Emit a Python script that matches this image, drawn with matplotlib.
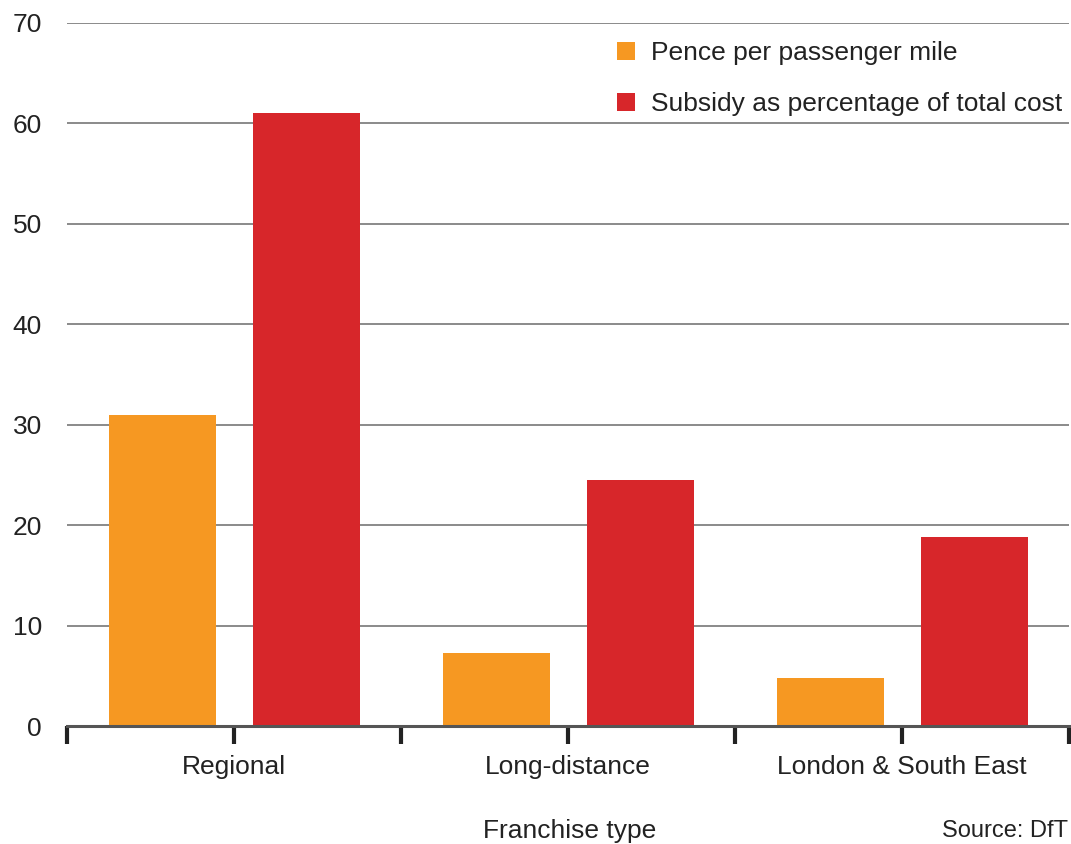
import matplotlib
matplotlib.use("Agg")
import matplotlib.pyplot as plt
from matplotlib.patches import Patch
import numpy as np

plt.rcParams['font.family'] = ['Liberation Sans', 'DejaVu Sans']

categories = ["Regional", "Long-distance", "London & South East"]
pence_per_mile = [31.0, 7.3, 4.8]
subsidy_pct = [61.0, 24.5, 18.8]
series_names = ["Pence per passenger mile", "Subsidy as percentage of total cost"]
y_ticks = [0, 10, 20, 30, 40, 50, 60, 70]

ORANGE = "#F69822"
RED = "#D7262A"
TEXT = "#222222"
FS = 19

W, H = 1071, 844
fig = plt.figure(figsize=(W / 100, H / 100), dpi=100)
ax = fig.add_axes([67 / W, (H - 726) / H, (1069 - 67) / W, (726 - 23) / H])

x = np.arange(len(categories))
bw = 0.32
ax.bar(x - 0.214, pence_per_mile, width=bw, color=ORANGE, zorder=3)
ax.bar(x + 0.218, subsidy_pct, width=bw, color=RED, zorder=3)

ax.set_xlim(-0.5, len(categories) - 0.5)
ax.set_ylim(0, 70)
ax.set_yticks(y_ticks)
ax.set_yticklabels([str(v) for v in y_ticks])
ax.yaxis.grid(True, color="#8a8a8a", linewidth=1.4, zorder=1)
ax.tick_params(axis="y", length=0, pad=18, labelsize=FS, labelcolor=TEXT)

ax.set_xticks(x)
ax.set_xticklabels(categories)
ax.set_xticks(np.arange(-0.5, len(categories)), minor=True)
ax.tick_params(axis="x", which="both", length=13, width=3, color="#222222",
               direction="out", labelsize=FS, labelcolor=TEXT, pad=8)

for s in ["top", "right", "left"]:
    ax.spines[s].set_visible(False)
ax.spines["bottom"].set_color("#555555")
ax.spines["bottom"].set_linewidth(2.2)
ax.spines["bottom"].set_zorder(4)

handles = [Patch(facecolor=ORANGE, edgecolor="none"), Patch(facecolor=RED, edgecolor="none")]
leg = ax.legend(handles, series_names, loc="upper left",
                bbox_to_anchor=(617 / W, 1 - 41 / H), bbox_transform=fig.transFigure,
                frameon=False, fontsize=FS, handlelength=0.68, handleheight=0.68,
                handletextpad=0.6, labelspacing=1.03, borderpad=0, borderaxespad=0)
for t in leg.get_texts():
    t.set_color(TEXT)

fig.text(570 / W, 1 - 831 / H, "Franchise type", ha="center", va="center",
         fontsize=FS, color=TEXT)
fig.text(1068 / W, 1 - 831 / H, "Source: DfT", ha="right", va="center",
         fontsize=17, color=TEXT)

fig.savefig("out.png", dpi=100)
